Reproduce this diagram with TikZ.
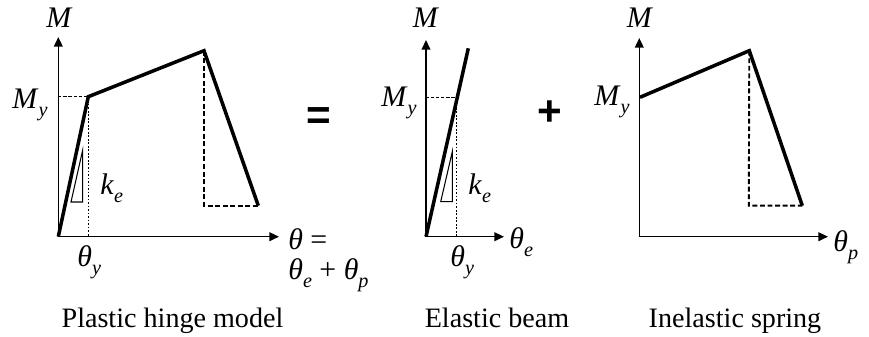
\documentclass[tikz,border=0pt]{standalone}
\usepackage{fontspec}
\setmainfont{Liberation Serif}
\newfontfamily\signfont{Liberation Sans}
\usetikzlibrary{arrows.meta}
\newcommand{\isub}[2]{\textit{#1}\raisebox{-5pt}{\fontsize{11.5}{13}\selectfont\textit{#2}}}

\begin{document}
\begin{tikzpicture}[x=0.02cm,y=-0.02cm]
\tikzset{
  axisline/.style={draw=black,line width=0.85pt,-{Triangle[length=5.5pt,width=5pt]}},
  curveline/.style={draw=black,line width=2pt,line join=miter},
  unloadline/.style={draw=black,line width=1.1pt,dash pattern=on 2.8pt off 1.5pt},
  guideline/.style={draw=black,line width=0.45pt,dash pattern=on 1.8pt off 1.1pt},
  dropline/.style={draw=black,line width=0.45pt,dash pattern=on 1pt off 1pt},
  slopetri/.style={draw=black,line width=0.6pt},
  axislabel/.style={font=\fontsize{17}{20}\selectfont,inner sep=0pt},
  caption/.style={font=\fontsize{16}{19}\selectfont,inner sep=0pt},
  opsign/.style={font=\signfont\bfseries\fontsize{24}{24}\selectfont,inner sep=0pt}
}
\useasboundingbox (0,0) rectangle (869,336);
\coordinate (c_O1) at (58.3,236.7);
\coordinate (c_M1) at (58.3,37);
\coordinate (c_T1) at (279,236.7);
\coordinate (c_Y1) at (88.3,96.7);
\coordinate (c_P1) at (204,50.7);
\coordinate (c_E1) at (258.3,205.7);
\coordinate (c_D1) at (204,205.7);
\coordinate (c_A1) at (58.3,96.7);
\coordinate (c_B1) at (88.3,236.7);
\coordinate (c_K1a) at (71,202);
\coordinate (c_K1b) at (82.7,150);
\coordinate (c_K1c) at (82.7,202);
\coordinate (c_O2) at (426,236.7);
\coordinate (c_M2) at (426,40);
\coordinate (c_T2) at (504,236.7);
\coordinate (c_P2) at (468.3,48.3);
\coordinate (c_Y2) at (456.7,97.3);
\coordinate (c_A2) at (426,97.3);
\coordinate (c_B2) at (456.7,236.7);
\coordinate (c_K2a) at (440.7,201.7);
\coordinate (c_K2b) at (452.3,151.7);
\coordinate (c_K2c) at (452.3,201.7);
\coordinate (c_O3) at (639.3,236.7);
\coordinate (c_M3) at (639.3,38);
\coordinate (c_T3) at (828,236.7);
\coordinate (c_S3) at (640,97.3);
\coordinate (c_P3) at (749.3,50.7);
\coordinate (c_E3) at (802.3,205.7);
\coordinate (c_D3) at (748.8,205.7);
\node[axislabel,anchor=base] (l_M1) at (59.5,27.5) {\textit{M}};
\node[axislabel,anchor=base west] (l_My1) at (12,108) {\isub{M}{y}};
\node[axislabel,anchor=base west] (l_ke1) at (100,194) {\isub{k}{e}};
\node[axislabel,anchor=base west] (l_ty1) at (77,266) {\isub{θ}{y}};
\node[axislabel,anchor=base west] (l_th1) at (288,249) {\textit{θ} =};
\node[axislabel,anchor=base west] (l_sum1) at (288,279) {\isub{θ}{e} + \isub{θ}{p}};
\node[axislabel,anchor=base] (l_M2) at (426,27.5) {\textit{M}};
\node[axislabel,anchor=base west] (l_My2) at (381,106) {\isub{M}{y}};
\node[axislabel,anchor=base west] (l_ke2) at (468,194) {\isub{k}{e}};
\node[axislabel,anchor=base west] (l_ty2) at (450,266) {\isub{θ}{y}};
\node[axislabel,anchor=base west] (l_te2) at (509,248) {\isub{θ}{e}};
\node[axislabel,anchor=base] (l_M3) at (640,27.5) {\textit{M}};
\node[axislabel,anchor=base west] (l_My3) at (594,105) {\isub{M}{y}};
\node[axislabel,anchor=base west] (l_tp3) at (833,251) {\isub{θ}{p}};
\node[opsign] (s_eq) at (319,119) {=};
\node[opsign] (s_plus) at (550,113) {+};
\node[caption,anchor=base] (t_hinge) at (172.5,327) {Plastic hinge model};
\node[caption,anchor=base] (t_beam) at (497,327) {Elastic beam};
\node[caption,anchor=base] (t_spring) at (735,327) {Inelastic spring};
\draw[guideline] (c_A1) -- (c_Y1);
\draw[dropline] (c_Y1) -- (c_B1);
\draw[axisline] (c_O1) -- (c_M1);
\draw[axisline] (c_O1) -- (c_T1);
\draw[slopetri] (c_K1a) -- (c_K1b) -- (c_K1c) -- cycle;
\draw[unloadline] (c_P1) -- (c_D1) -- (c_E1);
\draw[curveline] (c_O1) -- (c_Y1) -- (c_P1) -- (c_E1);
\draw[guideline] (c_A2) -- (c_Y2);
\draw[dropline] (c_Y2) -- (c_B2);
\draw[axisline] (c_O2) -- (c_M2);
\draw[axisline] (c_O2) -- (c_T2);
\draw[slopetri] (c_K2a) -- (c_K2b) -- (c_K2c) -- cycle;
\draw[curveline] (c_O2) -- (c_P2);
\draw[axisline] (c_O3) -- (c_M3);
\draw[axisline] (c_O3) -- (c_T3);
\draw[unloadline] (c_P3) -- (c_D3) -- (c_E3);
\draw[curveline] (c_S3) -- (c_P3) -- (c_E3);
\end{tikzpicture}
\end{document}
